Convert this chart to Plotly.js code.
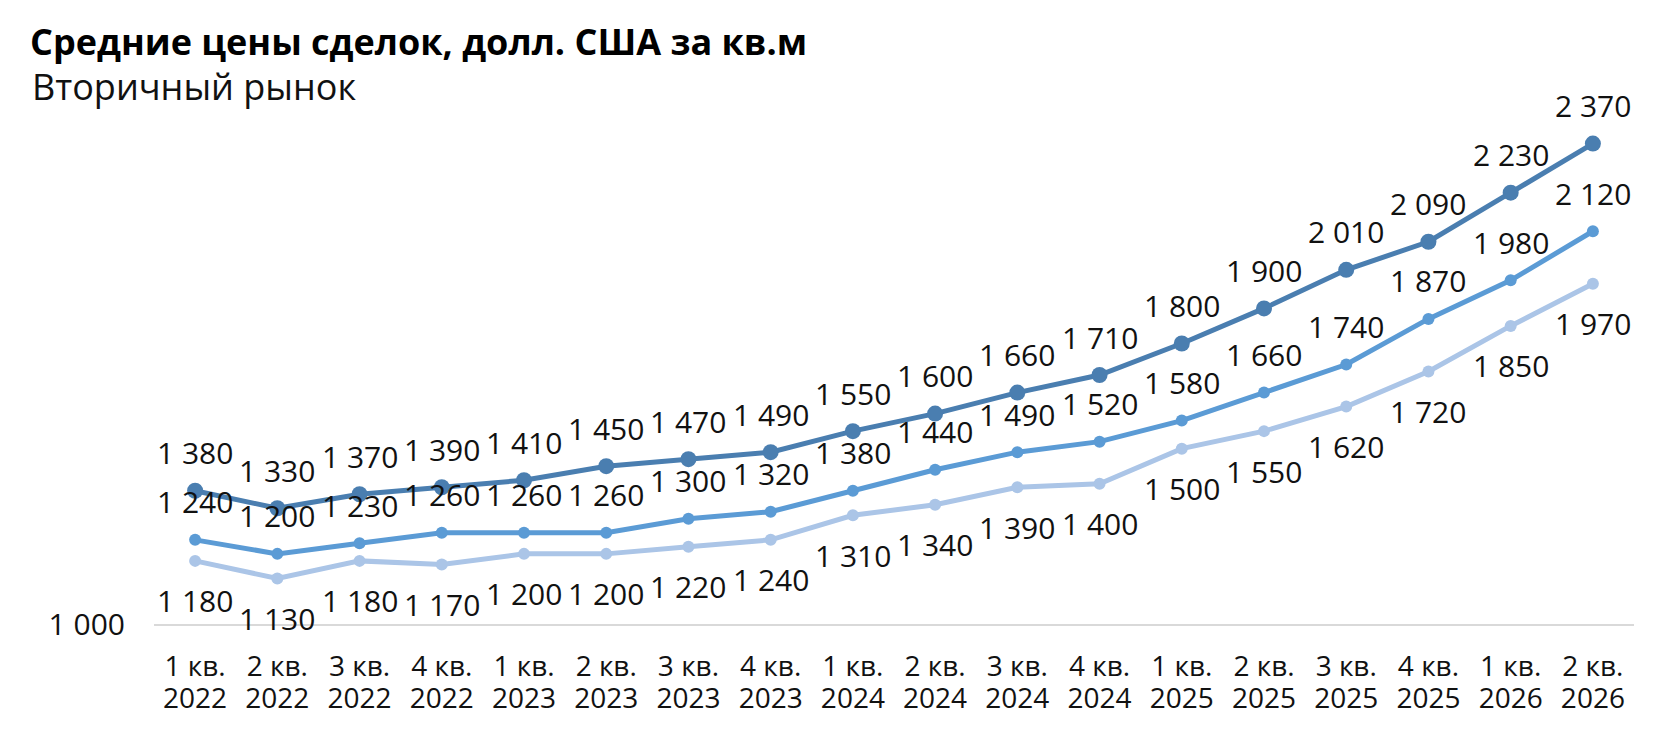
<!DOCTYPE html>
<html>
<head>
<meta charset="utf-8">
<script src="https://cdn.plot.ly/plotly-3.0.1.min.js"></script>
<style>html,body{margin:0;padding:0;background:#fff;}</style>
</head>
<body>
<div id="chart" style="width:1657px;height:732px;"></div>
<script>
const quarters = ['1 кв.','2 кв.','3 кв.','4 кв.','1 кв.','2 кв.','3 кв.','4 кв.','1 кв.','2 кв.','3 кв.','4 кв.','1 кв.','2 кв.','3 кв.','4 кв.','1 кв.','2 кв.'];
const years = ['2022','2022','2022','2022','2023','2023','2023','2023','2024','2024','2024','2024','2025','2025','2025','2025','2026','2026'];
const seriesHigh = [1380,1330,1370,1390,1410,1450,1470,1490,1550,1600,1660,1710,1800,1900,2010,2090,2230,2370];
const seriesMid  = [1240,1200,1230,1260,1260,1260,1300,1320,1380,1440,1490,1520,1580,1660,1740,1870,1980,2120];
const seriesLow  = [1180,1130,1180,1170,1200,1200,1220,1240,1310,1340,1390,1400,1500,1550,1620,1720,1850,1970];
const yTickVals = [1000];
const yTickText = ['1 000'];
const titleText = 'Средние цены сделок, долл. США за кв.м';
const subtitleText = 'Вторичный рынок';

const categories = quarters.map((q, i) => q + ' ' + years[i]);

const FONT = 'Open Sans, Noto Sans, sans-serif';
const colHigh = '#4a7eb0';
const colMid = '#5b9bd5';
const colLow = '#abc5e7';

function fmt(v){ return String(v).replace(/\B(?=(\d{3})+(?!\d))/g, ' '); }

const traces = [
  {x: categories, y: seriesLow, type:'scatter', mode:'lines+markers', line:{color:colLow, width:5}, marker:{color:colLow, size:12}, hoverinfo:'skip'},
  {x: categories, y: seriesMid, type:'scatter', mode:'lines+markers', line:{color:colMid, width:5}, marker:{color:colMid, size:12}, hoverinfo:'skip'},
  {x: categories, y: seriesHigh, type:'scatter', mode:'lines+markers', line:{color:colHigh, width:5}, marker:{color:colHigh, size:16}, hoverinfo:'skip'},
  {x: categories, y: seriesLow, xaxis:'x2', type:'scatter', mode:'none', hoverinfo:'skip'}
];

const annotations = [];
function addLabels(vals, shift){
  vals.forEach((v,i)=>{
    annotations.push({x: categories[i], y: v, xref:'x', yref:'y', text: fmt(v), showarrow:false,
      xanchor:'center', yanchor:'middle', yshift: shift, font:{family:FONT, size:30, color:'#111'}});
  });
}
addLabels(seriesHigh, 38);
addLabels(seriesMid, 38);
addLabels(seriesLow, -40);

annotations.push({xref:'paper', yref:'paper', x:-0.0835, y:1.021, xanchor:'left', yanchor:'middle',
  text: subtitleText, showarrow:false, font:{family:FONT, size:36, color:'#111'}});

const layout = {
  width:1657, height:732,
  margin:{l:154, r:23, t:98, b:108},
  paper_bgcolor:'#fff', plot_bgcolor:'#fff',
  showlegend:false,
  title:{text: titleText, x: 30/1657, xanchor:'left', xref:'container', y: 1-42/732, yanchor:'middle', yref:'container',
    font:{family:FONT, size:36, weight:700, color:'#000'}},
  xaxis:{type:'category', categoryarray:categories, range:[-0.5,17.5], showgrid:false, zeroline:false, showline:true, linecolor:'#d9d9d9', linewidth:2,
    ticks:'', tickmode:'array', tickvals:categories, ticktext:quarters,
    tickfont:{family:FONT, size:28, color:'#111'}, ticklabelstandoff:16, fixedrange:true},
  xaxis2:{type:'category', categoryarray:categories, range:[-0.5,17.5], overlaying:'x', anchor:'y', side:'bottom',
    showgrid:false, zeroline:false, showline:false, ticks:'', tickmode:'array', tickvals:categories, ticktext:years,
    tickfont:{family:FONT, size:28, color:'#111'}, ticklabelstandoff:55, fixedrange:true},
  yaxis:{range:[1000,2500], tickvals:yTickVals, ticktext:yTickText, showgrid:false, zeroline:false, showline:false,
    ticks:'', tickfont:{family:FONT, size:30, color:'#111'}, ticklabelstandoff:28, fixedrange:true},
  annotations: annotations
};

Plotly.newPlot('chart', traces, layout, {displayModeBar:false, staticPlot:true});
</script>
</body>
</html>
